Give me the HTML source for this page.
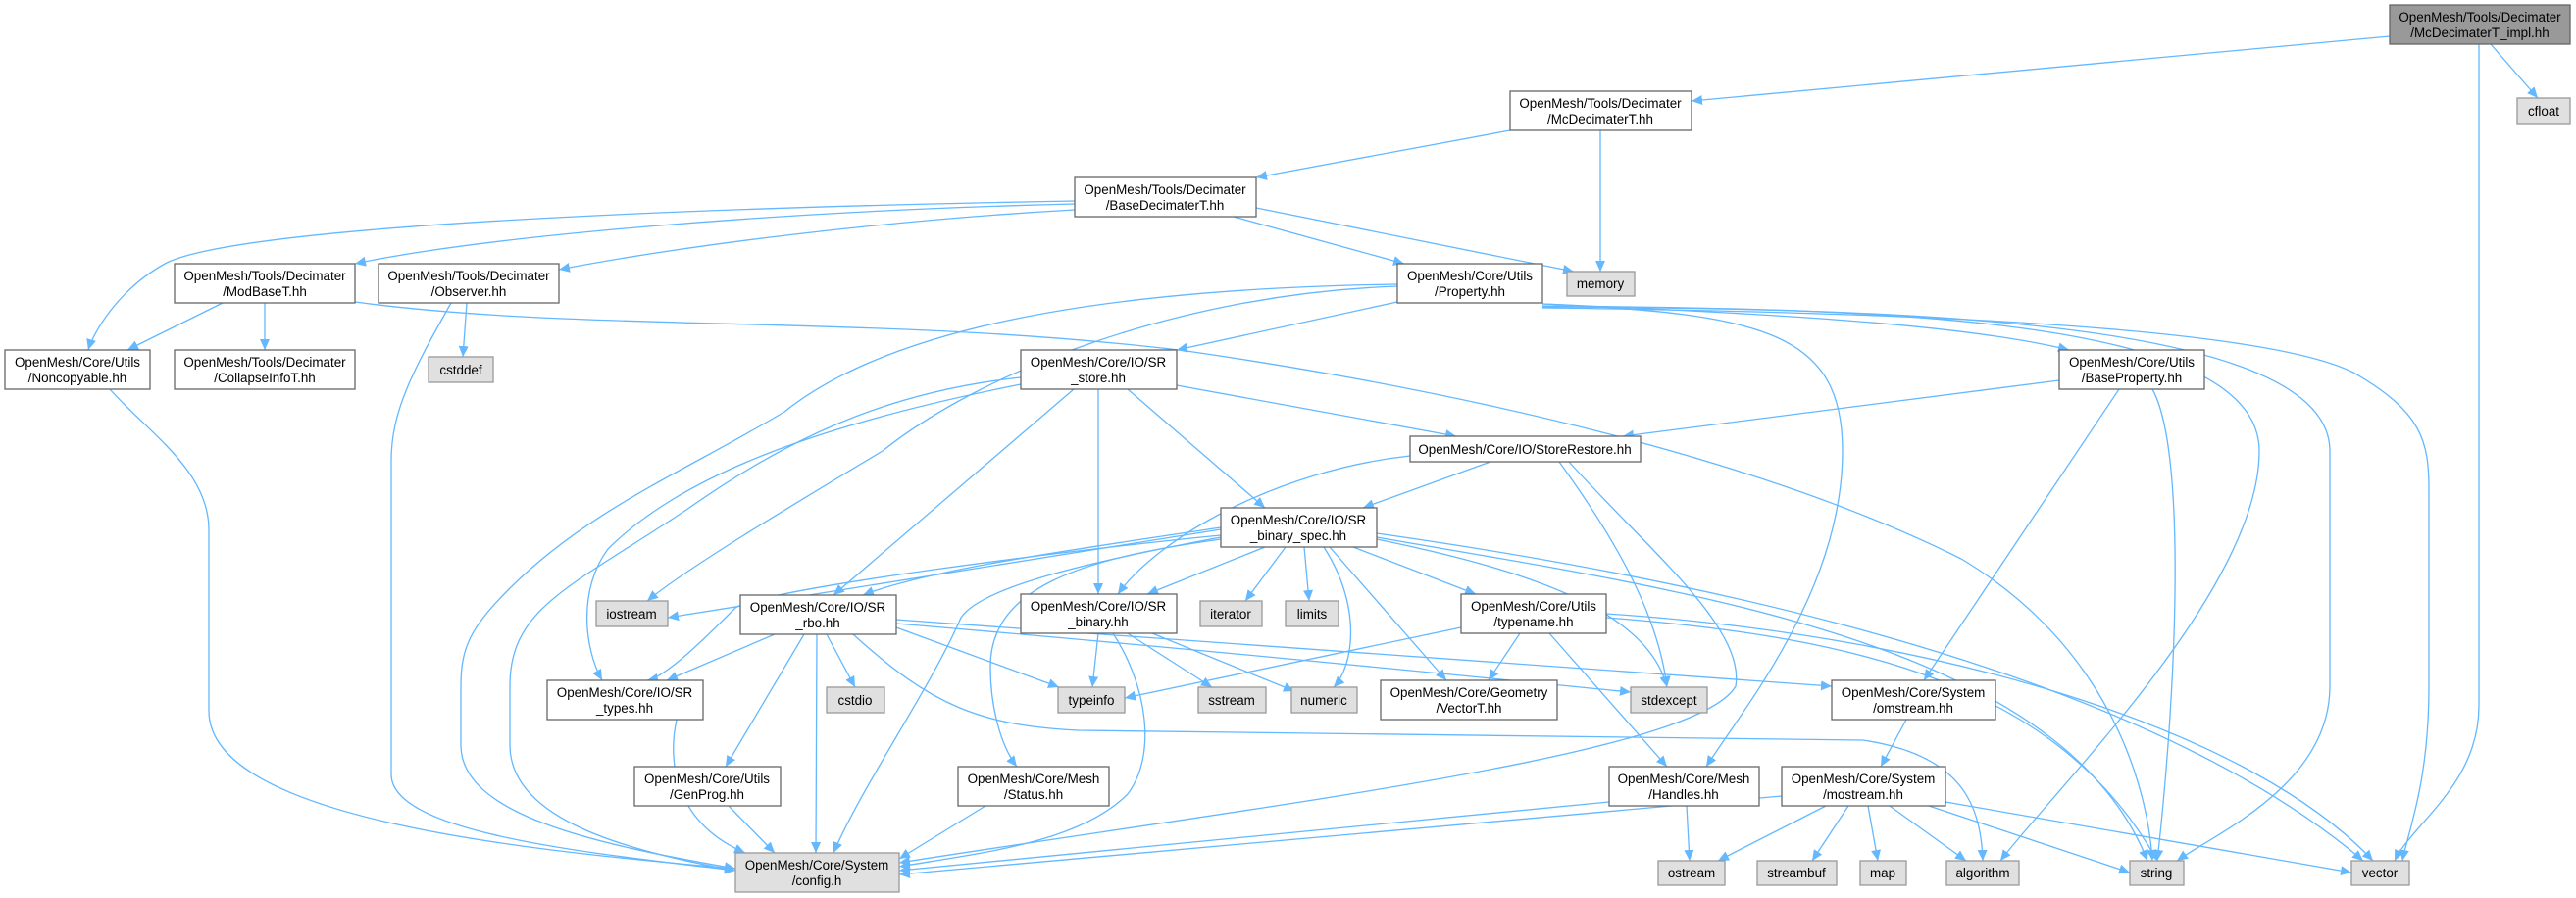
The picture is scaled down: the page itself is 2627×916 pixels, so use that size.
<!DOCTYPE html>
<html><head><meta charset="utf-8"><style>
html,body{margin:0;padding:0;background:#fff;}
svg{display:block;}
text{font-family:"Liberation Sans",Arial,sans-serif;font-size:13.4px;fill:#000;text-anchor:middle;}
.e{fill:none;stroke:#63b8ff;stroke-width:1.3;marker-end:url(#a);}
.n{fill:#fff;stroke:#666;stroke-width:1.3;}
.g{fill:#e0e0e0;stroke:#999;stroke-width:1.3;}
</style></head><body>
<svg width="2627" height="916" viewBox="0 0 2627 916" xmlns="http://www.w3.org/2000/svg">
<defs><marker id="a" markerUnits="userSpaceOnUse" markerWidth="12" markerHeight="10" refX="11" refY="5" orient="auto"><path d="M0,0 L11,5 L0,10 z" fill="#63b8ff"/></marker></defs>
<g>
<path class="e" d="M2437,37 L1725,103"/>
<path class="e" d="M2540,45 L2588,100"/>
<path class="e" d="M2528,45 L2528,720 C2528,800 2460,840 2442,878"/>
<path class="e" d="M1540,133 L1281,181"/>
<path class="e" d="M1632,133 L1632,277"/>
<path class="e" d="M1096,205 C700,212 250,230 170,268 C120,295 95,340 90,357"/>
<path class="e" d="M1096,208 C800,215 500,240 362,269"/>
<path class="e" d="M1096,214 C900,225 700,250 570,275"/>
<path class="e" d="M1258,221 L1432,269"/>
<path class="e" d="M1281,212 L1605,277"/>
<path class="e" d="M227,309 L130,357"/>
<path class="e" d="M270,309 L270,357"/>
<path class="e" d="M362,308 C600,340 900,320 1210,358 C1500,400 1800,470 2000,570 C2150,660 2190,800 2195,878"/>
<path class="e" d="M476,309 L472,364"/>
<path class="e" d="M460,309 C420,380 399,420 399,470 L399,790 C399,850 600,870 750,888"/>
<path class="e" d="M112,397 C150,440 213,480 213,540 L213,725 C213,830 500,865 750,886"/>
<path class="e" d="M1425,290 C1100,295 900,340 800,420 C700,480 600,520 520,600 C480,640 470,660 470,700 L470,760 C470,830 600,860 750,886"/>
<path class="e" d="M1041,385 C900,400 800,450 700,520 C580,600 520,620 520,700 L520,760 C520,830 620,865 750,888"/>
<path class="e" d="M1425,292 C1200,300 1000,380 900,460 C800,520 700,580 660,613"/>
<path class="e" d="M1425,308 L1200,357"/>
<path class="e" d="M1573,310 C1800,320 2000,330 2110,357"/>
<path class="e" d="M1573,310 C1800,320 1879,340 1879,460 C1879,600 1780,720 1740,782"/>
<path class="e" d="M1573,312 C1900,315 2304,320 2304,460 C2304,600 2100,800 2040,878"/>
<path class="e" d="M1573,313 C1900,315 2376,320 2376,460 L2376,700 C2376,800 2260,850 2220,878"/>
<path class="e" d="M1573,314 C1900,318 2300,330 2400,380 C2470,420 2477,450 2477,500 L2477,700 C2477,800 2455,850 2450,878"/>
<path class="e" d="M1095,397 L850,607"/>
<path class="e" d="M1120,397 L1120,606"/>
<path class="e" d="M1150,397 L1290,518"/>
<path class="e" d="M1200,393 L1485,445"/>
<path class="e" d="M1041,392 C850,430 700,480 620,560 C590,600 595,660 614,694"/>
<path class="e" d="M1520,471 L1390,518"/>
<path class="e" d="M1438,465 C1300,480 1180,550 1140,606"/>
<path class="e" d="M1590,471 C1640,540 1690,620 1700,701"/>
<path class="e" d="M1600,471 C1680,560 1780,640 1770,700 C1730,770 1300,820 917,880"/>
<path class="e" d="M2100,388 L1655,445"/>
<path class="e" d="M2161,397 L1962,694"/>
<path class="e" d="M2195,397 C2230,460 2220,700 2200,878"/>
<path class="e" d="M1245,540 L681,630"/>
<path class="e" d="M1245,538 C1100,560 950,580 880,607"/>
<path class="e" d="M1245,546 C1100,560 780,600 750,620 C720,650 680,690 660,694"/>
<path class="e" d="M1245,548 C1100,575 1000,600 980,630 C950,700 880,800 850,870"/>
<path class="e" d="M1290,558 L1170,606"/>
<path class="e" d="M1311,558 L1270,613"/>
<path class="e" d="M1330,558 L1335,613"/>
<path class="e" d="M1350,558 C1390,620 1380,680 1360,701"/>
<path class="e" d="M1356,558 L1475,694"/>
<path class="e" d="M1380,558 L1505,606"/>
<path class="e" d="M1404,550 C1550,580 1680,620 1700,701"/>
<path class="e" d="M1404,544 C1800,600 2200,700 2410,878"/>
<path class="e" d="M1404,548 C1700,600 2100,650 2190,878"/>
<path class="e" d="M1245,550 C1100,570 1010,600 1010,680 C1010,720 1020,760 1037,782"/>
<path class="e" d="M790,647 L680,694"/>
<path class="e" d="M843,647 L872,701"/>
<path class="e" d="M833,647 L832,870"/>
<path class="e" d="M820,647 L740,782"/>
<path class="e" d="M914,640 L1080,701"/>
<path class="e" d="M914,636 C1200,660 1500,690 1663,706"/>
<path class="e" d="M914,632 C1300,660 1700,690 1868,700"/>
<path class="e" d="M870,647 C950,720 1000,740 1100,745 L1900,755 C2000,770 2020,820 2022,878"/>
<path class="e" d="M1120,646 L1114,701"/>
<path class="e" d="M1150,646 L1236,701"/>
<path class="e" d="M1175,646 L1320,705"/>
<path class="e" d="M1135,646 C1170,700 1180,770 1150,810 C1100,860 1000,870 917,884"/>
<path class="e" d="M1490,640 L1147,712"/>
<path class="e" d="M1550,646 L1518,694"/>
<path class="e" d="M1580,646 L1700,782"/>
<path class="e" d="M1638,630 C1900,650 2100,700 2200,878"/>
<path class="e" d="M1638,626 C2000,650 2300,750 2420,878"/>
<path class="e" d="M690,734 C680,780 690,840 760,870"/>
<path class="e" d="M743,822 L790,870"/>
<path class="e" d="M1005,822 L917,876"/>
<path class="e" d="M1641,818 L917,888"/>
<path class="e" d="M1720,822 L1723,878"/>
<path class="e" d="M1944,734 L1918,782"/>
<path class="e" d="M1817,812 L917,892"/>
<path class="e" d="M1862,822 L1752,878"/>
<path class="e" d="M1885,822 L1848,878"/>
<path class="e" d="M1905,822 L1915,878"/>
<path class="e" d="M1927,822 L2005,878"/>
<path class="e" d="M1967,822 L2172,890"/>
<path class="e" d="M1984,818 L2398,890"/>
</g>
<g>
<rect x="2437" y="5" width="184" height="40" fill="#999" stroke="#666" stroke-width="1.3"/><text x="2529" y="22">OpenMesh/Tools/Decimater</text><text x="2529" y="38">/McDecimaterT_impl.hh</text>
<rect class="g" x="2567" y="100" width="54" height="26"/><text x="2594" y="118">cfloat</text>
<rect class="n" x="1540" y="93" width="185" height="40"/><text x="1632" y="110">OpenMesh/Tools/Decimater</text><text x="1632" y="126">/McDecimaterT.hh</text>
<rect class="n" x="1096" y="181" width="185" height="40"/><text x="1188" y="198">OpenMesh/Tools/Decimater</text><text x="1188" y="214">/BaseDecimaterT.hh</text>
<rect class="n" x="178" y="269" width="184" height="40"/><text x="270" y="286">OpenMesh/Tools/Decimater</text><text x="270" y="302">/ModBaseT.hh</text>
<rect class="n" x="386" y="269" width="184" height="40"/><text x="478" y="286">OpenMesh/Tools/Decimater</text><text x="478" y="302">/Observer.hh</text>
<rect class="n" x="1425" y="269" width="148" height="40"/><text x="1499" y="286">OpenMesh/Core/Utils</text><text x="1499" y="302">/Property.hh</text>
<rect class="g" x="1598" y="277" width="69" height="25"/><text x="1632" y="294">memory</text>
<rect class="n" x="5" y="357" width="148" height="40"/><text x="79" y="374">OpenMesh/Core/Utils</text><text x="79" y="390">/Noncopyable.hh</text>
<rect class="n" x="178" y="357" width="184" height="40"/><text x="270" y="374">OpenMesh/Tools/Decimater</text><text x="270" y="390">/CollapseInfoT.hh</text>
<rect class="g" x="437" y="364" width="66" height="26"/><text x="470" y="382">cstddef</text>
<rect class="n" x="1041" y="357" width="159" height="40"/><text x="1120" y="374">OpenMesh/Core/IO/SR</text><text x="1120" y="390">_store.hh</text>
<rect class="n" x="2100" y="357" width="148" height="40"/><text x="2174" y="374">OpenMesh/Core/Utils</text><text x="2174" y="390">/BaseProperty.hh</text>
<rect class="n" x="1438" y="445" width="235" height="26"/><text x="1555" y="463">OpenMesh/Core/IO/StoreRestore.hh</text>
<rect class="n" x="1245" y="518" width="159" height="40"/><text x="1324" y="535">OpenMesh/Core/IO/SR</text><text x="1324" y="551">_binary_spec.hh</text>
<rect class="g" x="608" y="613" width="73" height="26"/><text x="644" y="631">iostream</text>
<rect class="n" x="755" y="607" width="159" height="40"/><text x="834" y="624">OpenMesh/Core/IO/SR</text><text x="834" y="640">_rbo.hh</text>
<rect class="n" x="1041" y="606" width="159" height="40"/><text x="1120" y="623">OpenMesh/Core/IO/SR</text><text x="1120" y="639">_binary.hh</text>
<rect class="g" x="1224" y="613" width="63" height="26"/><text x="1255" y="631">iterator</text>
<rect class="g" x="1311" y="613" width="54" height="26"/><text x="1338" y="631">limits</text>
<rect class="n" x="1490" y="606" width="148" height="40"/><text x="1564" y="623">OpenMesh/Core/Utils</text><text x="1564" y="639">/typename.hh</text>
<rect class="n" x="558" y="694" width="159" height="40"/><text x="637" y="711">OpenMesh/Core/IO/SR</text><text x="637" y="727">_types.hh</text>
<rect class="g" x="843" y="701" width="59" height="26"/><text x="872" y="719">cstdio</text>
<rect class="g" x="1079" y="701" width="68" height="26"/><text x="1113" y="719">typeinfo</text>
<rect class="g" x="1222" y="701" width="69" height="26"/><text x="1256" y="719">sstream</text>
<rect class="g" x="1317" y="701" width="67" height="26"/><text x="1350" y="719">numeric</text>
<rect class="n" x="1408" y="694" width="180" height="40"/><text x="1498" y="711">OpenMesh/Core/Geometry</text><text x="1498" y="727">/VectorT.hh</text>
<rect class="g" x="1663" y="701" width="78" height="26"/><text x="1702" y="719">stdexcept</text>
<rect class="n" x="1868" y="694" width="167" height="40"/><text x="1951" y="711">OpenMesh/Core/System</text><text x="1951" y="727">/omstream.hh</text>
<rect class="n" x="647" y="782" width="149" height="40"/><text x="721" y="799">OpenMesh/Core/Utils</text><text x="721" y="815">/GenProg.hh</text>
<rect class="n" x="977" y="782" width="154" height="40"/><text x="1054" y="799">OpenMesh/Core/Mesh</text><text x="1054" y="815">/Status.hh</text>
<rect class="n" x="1641" y="782" width="153" height="40"/><text x="1717" y="799">OpenMesh/Core/Mesh</text><text x="1717" y="815">/Handles.hh</text>
<rect class="n" x="1817" y="782" width="167" height="40"/><text x="1900" y="799">OpenMesh/Core/System</text><text x="1900" y="815">/mostream.hh</text>
<rect class="g" x="750" y="870" width="167" height="40"/><text x="833" y="887">OpenMesh/Core/System</text><text x="833" y="903">/config.h</text>
<rect class="g" x="1691" y="878" width="68" height="25"/><text x="1725" y="895">ostream</text>
<rect class="g" x="1792" y="878" width="81" height="25"/><text x="1832" y="895">streambuf</text>
<rect class="g" x="1897" y="878" width="47" height="25"/><text x="1920" y="895">map</text>
<rect class="g" x="1985" y="878" width="74" height="25"/><text x="2022" y="895">algorithm</text>
<rect class="g" x="2172" y="878" width="55" height="25"/><text x="2199" y="895">string</text>
<rect class="g" x="2398" y="878" width="59" height="25"/><text x="2427" y="895">vector</text>
</g>
</svg>
</body></html>
